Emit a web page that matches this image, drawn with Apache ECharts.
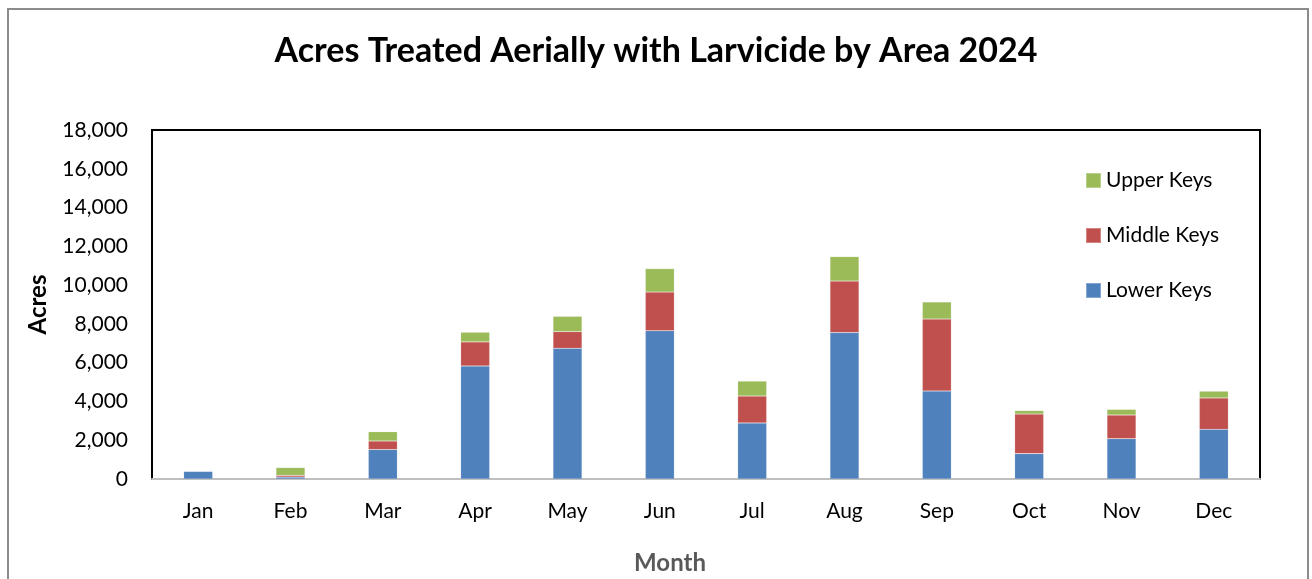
<!DOCTYPE html>
<html>
<head>
<meta charset="utf-8">
<script src="https://cdn.jsdelivr.net/npm/echarts@6/dist/echarts.min.js"></script>
<style>
  html, body { margin: 0; padding: 0; background: #fff; }
  #frame {
    position: absolute; left: 7px; top: 8px; width: 1302px; height: 600px;
    border: 2px solid #8c8c8c; box-sizing: border-box;
  }
  #main { position: absolute; left: 0; top: 0; width: 1312px; height: 579px; }
</style>
</head>
<body>
<div id="frame"></div>
<div id="main"></div>
<script>
var months = ["Jan", "Feb", "Mar", "Apr", "May", "Jun", "Jul", "Aug", "Sep", "Oct", "Nov", "Dec"];
var lowerKeys = [400, 100, 1520, 5830, 6740, 7650, 2890, 7550, 4540, 1310, 2080, 2560];
var middleKeys = [0, 90, 440, 1240, 860, 1990, 1390, 2660, 3710, 2040, 1220, 1620];
var upperKeys = [0, 400, 480, 500, 790, 1210, 770, 1260, 880, 180, 290, 350];
var yTicks = [0, 2000, 4000, 6000, 8000, 10000, 12000, 14000, 16000, 18000];

var font = "Lato, 'Open Sans', sans-serif";
var myChart = echarts.init(document.getElementById("main"));

function barSeries(name, data, color) {
  return {
    name: name,
    type: "bar",
    stack: "total",
    data: data,
    barWidth: 29,
    itemStyle: {
      color: color,
      borderColor: "rgba(255,255,255,0.3)",
      borderWidth: 0.5,
    },
  };
}

myChart.setOption({
  animation: false,
  textStyle: { fontFamily: font },
  title: {
    text: "Acres Treated Aerially with Larvicide by Area 2024",
    left: "center",
    top: 29,
    textStyle: { fontSize: 34, fontWeight: "bold", color: "#000", fontFamily: font },
  },
  grid: {
    left: 152,
    right: 52,
    top: 130,
    bottom: 100,
    outerBoundsMode: "none",
    show: true,
    borderColor: "#000",
    borderWidth: 2,
  },
  legend: {
    orient: "vertical",
    left: 1080,
    top: 165,
    itemGap: 34,
    itemWidth: 15,
    itemHeight: 15,
    icon: "rect",
    data: ["Upper Keys", "Middle Keys", "Lower Keys"],
    textStyle: { fontSize: 21, color: "#000", fontFamily: font },
  },
  xAxis: {
    type: "category",
    data: months,
    name: "Month",
    nameLocation: "middle",
    nameGap: 72,
    nameTextStyle: {
      fontSize: 24,
      fontWeight: "bold",
      color: "#595959",
      padding: [0, 72, 0, 0],
    },
    axisLine: { lineStyle: { color: "#bfbfbf", width: 2 } },
    axisTick: { show: false },
    axisLabel: { fontSize: 21, color: "#000", margin: 22 },
  },
  yAxis: {
    type: "value",
    min: yTicks[0],
    max: yTicks[yTicks.length - 1],
    interval: 2000,
    name: "Acres",
    nameLocation: "middle",
    nameGap: 102,
    nameTextStyle: { fontSize: 24, fontWeight: "bold", color: "#000" },
    axisLine: { show: true, lineStyle: { color: "#000", width: 2 } },
    axisTick: { show: false },
    splitLine: { show: false },
    axisLabel: {
      fontSize: 21,
      color: "#000",
      margin: 24,
      formatter: function (value) {
        return value.toLocaleString("en-US");
      },
    },
  },
  series: [
    barSeries("Lower Keys", lowerKeys, "#4f81bd"),
    barSeries("Middle Keys", middleKeys, "#c0504d"),
    barSeries("Upper Keys", upperKeys, "#9bbb59"),
  ],
});
</script>
</body>
</html>
